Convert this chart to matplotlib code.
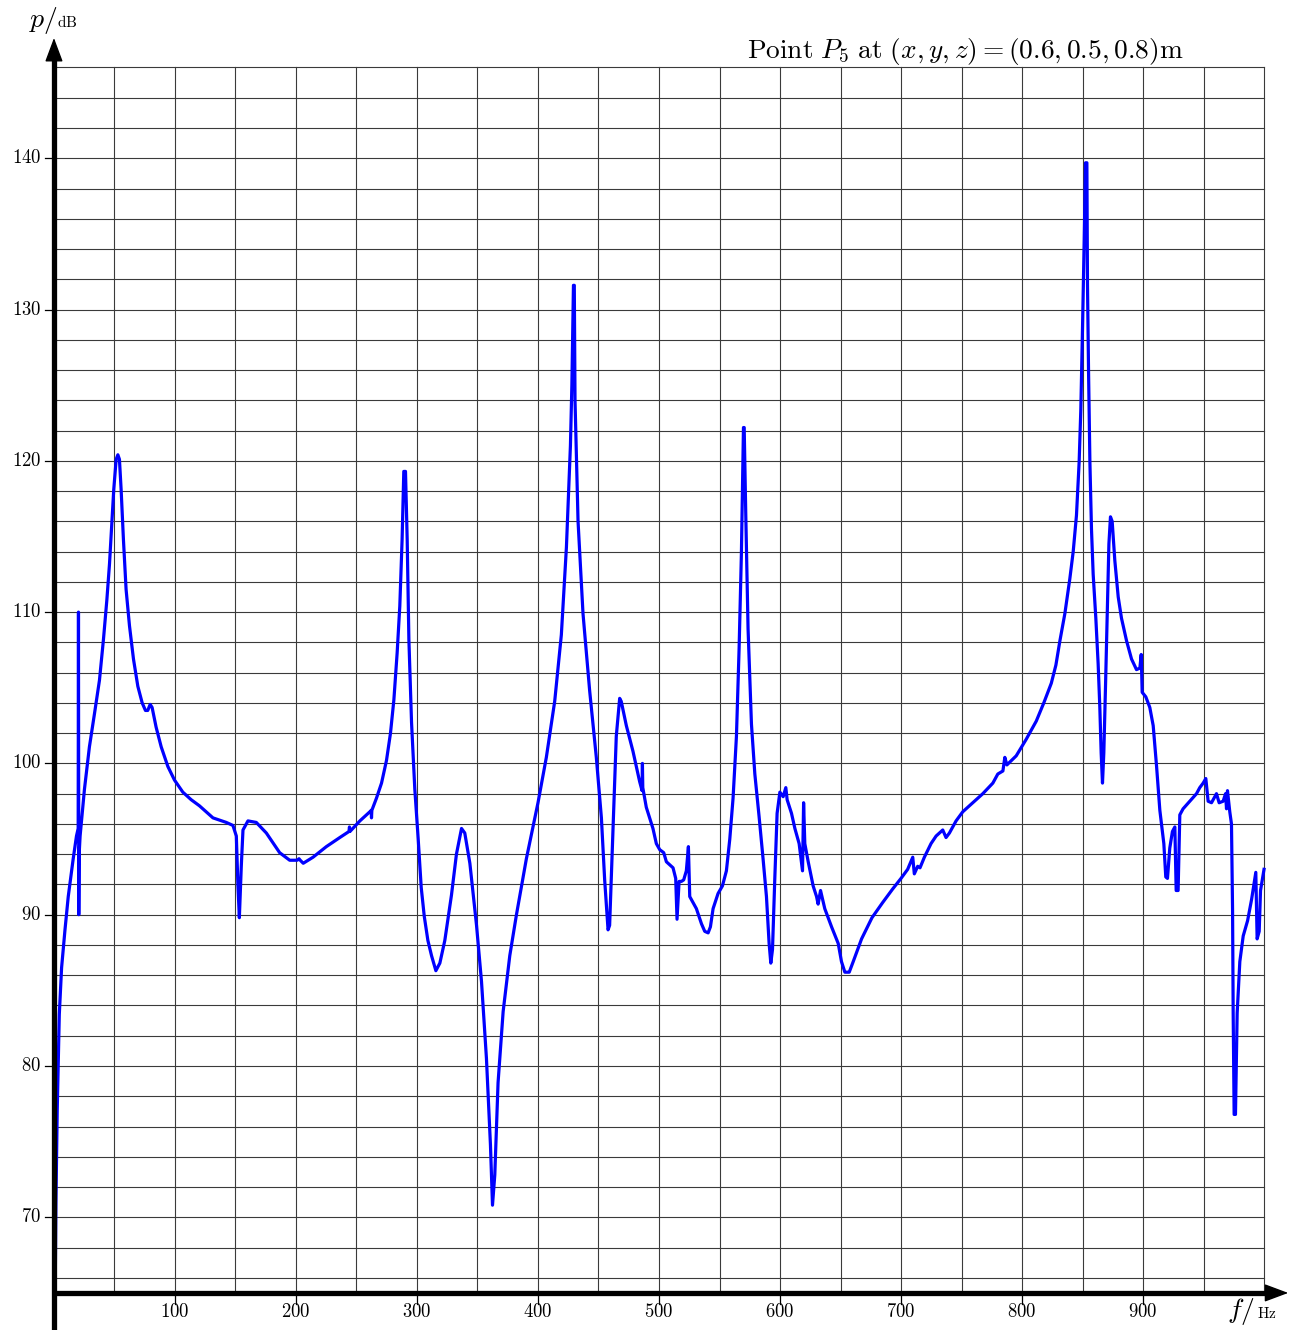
import matplotlib
matplotlib.use("Agg")
import matplotlib.pyplot as plt

plt.rcParams['mathtext.fontset'] = 'cm'
plt.rcParams['font.family'] = ['DejaVu Serif']

# frequency (Hz) and sound pressure level (dB)
freq = [0.5, 1.6, 2.7, 4.4, 6.3, 9.1, 11.8, 15.9, 18.6, 20.0,
        20.25, 20.5, 20.8, 21.6, 25.2, 29.3, 33.5, 37.6, 40.9, 43.7,
        45.9, 47.8, 49.4, 51.4, 52.8, 54.1, 55.5, 57.4, 59.6, 62.4,
        65.7, 69.3, 72.9, 75.6, 77.5, 79.5, 81.1, 84.4, 88.6, 94.1,
        99.6, 106.5, 113.4, 120.2, 131.4, 142.4, 147.9, 150.7, 152.0, 153.2,
        154.8, 156.2, 160.3, 167.2, 175.5, 186.5, 194.8, 201.0, 202.5, 203.5,
        206.0, 214.1, 225.1, 236.2, 243.8, 244.2, 244.6, 252.8, 261.0, 262.2,
        262.4, 262.7, 266.5, 270.7, 274.8, 278.1, 280.9, 283.6, 285.8, 287.7,
        289.1, 290.5, 291.9, 293.3, 295.5, 298.2, 301.0, 303.5, 306.0, 309.0,
        312.0, 315.6, 318.9, 323.0, 328.5, 332.6, 336.8, 339.5, 343.7, 349.2,
        353.3, 357.4, 360.7, 362.4, 364.3, 367.0, 371.2, 376.7, 382.2, 390.4,
        400.0, 406.9, 413.8, 419.3, 423.5, 426.8, 428.0, 429.3, 430.0, 430.6,
        433.1, 437.2, 442.7, 448.2, 452.4, 455.1, 457.9, 459.2, 462.0, 464.7,
        467.5, 468.8, 473.0, 478.5, 484.0, 486.0, 486.3, 486.6, 489.5, 495.0,
        497.8, 500.6, 503.9, 506.1, 508.9, 511.6, 513.8, 514.9, 516.6, 518.5,
        520.4, 522.6, 524.3, 525.4, 528.2, 530.9, 535.1, 537.8, 540.6, 542.5,
        544.7, 548.8, 552.4, 555.7, 558.5, 561.2, 564.0, 566.2, 568.1, 569.8,
        570.4, 571.7, 573.6, 576.4, 579.2, 582.7, 586.0, 588.8, 591.0, 592.4,
        593.8, 595.7, 597.6, 599.9, 602.6, 604.8, 605.9, 609.5, 612.3, 615.8,
        618.6, 619.5, 620.5, 623.3, 627.4, 630.2, 631.5, 633.5, 637.0, 642.6,
        648.1, 650.8, 653.6, 657.2, 660.5, 667.4, 676.0, 684.8, 693.1, 700.0,
        705.5, 709.7, 711.0, 713.8, 715.7, 719.3, 724.8, 729.0, 731.7, 734.5,
        737.2, 740.0, 745.5, 751.0, 759.3, 767.6, 775.9, 780.0, 784.2, 785.8,
        787.5, 795.2, 803.5, 811.8, 818.0, 824.2, 828.0, 831.3, 835.4, 839.5,
        842.3, 845.0, 847.2, 848.6, 850.0, 851.4, 852.5, 853.6, 854.1, 855.0,
        856.1, 857.4, 858.8, 861.0, 862.9, 864.3, 865.4, 866.5, 867.6, 869.0,
        870.7, 871.8, 873.1, 874.5, 876.7, 879.5, 882.2, 886.4, 890.5, 894.6,
        897.4, 898.5, 899.3, 902.3, 905.6, 908.4, 911.2, 913.9, 917.2, 918.8,
        920.2, 922.1, 924.3, 926.3, 927.4, 929.0, 930.4, 933.1, 938.6, 944.2,
        946.9, 949.7, 951.9, 953.8, 956.6, 960.7, 962.9, 966.2, 968.2, 969.0,
        969.8, 971.7, 973.1, 974.0, 974.5, 975.3, 976.4, 977.8, 980.0, 982.8,
        986.4, 989.7, 993.2, 994.3, 996.0, 997.1, 1000.0]

level = [60.0, 70.9, 77.1, 83.4, 86.5, 89.0, 91.2, 93.7, 95.2, 95.7,
         110.0, 90.0, 94.0, 95.2, 98.3, 101.1, 103.3, 105.5, 108.2, 110.8,
         113.2, 115.9, 118.1, 120.1, 120.4, 120.1, 118.1, 114.8, 111.5, 109.1,
         106.9, 105.1, 104.0, 103.5, 103.5, 103.9, 103.7, 102.4, 101.1, 99.8,
         98.9, 98.1, 97.6, 97.2, 96.4, 96.1, 95.9, 95.2, 92.0, 89.8,
         93.2, 95.6, 96.2, 96.1, 95.4, 94.1, 93.6, 93.6, 93.7, 93.6,
         93.4, 93.8, 94.5, 95.1, 95.5, 95.8, 95.5, 96.2, 96.8, 96.9,
         96.4, 96.9, 97.7, 98.7, 100.2, 102.0, 104.2, 107.3, 110.4, 114.8,
         119.3, 119.3, 114.8, 108.2, 102.7, 98.3, 95.0, 91.8, 89.9, 88.3,
         87.3, 86.3, 86.8, 88.3, 91.3, 94.0, 95.7, 95.4, 93.4, 89.3,
         85.6, 80.5, 74.8, 70.8, 72.8, 78.9, 83.6, 87.3, 90.0, 93.7,
         97.4, 100.4, 104.1, 108.5, 114.3, 121.0, 125.0, 131.6, 131.6, 124.0,
         116.0, 109.9, 104.8, 100.4, 96.4, 92.3, 89.0, 89.3, 95.7, 101.8,
         104.3, 104.1, 102.5, 100.8, 98.8, 98.2, 100.0, 98.4, 97.1, 95.7,
         94.7, 94.3, 94.1, 93.5, 93.3, 93.1, 92.4, 89.7, 92.2, 92.2,
         92.3, 92.9, 94.5, 91.2, 90.8, 90.4, 89.4, 88.9, 88.8, 89.2,
         90.4, 91.4, 91.9, 92.9, 95.0, 97.7, 101.8, 107.6, 113.9, 122.2,
         122.2, 116.5, 108.9, 102.6, 99.3, 96.5, 93.7, 91.2, 88.1, 86.8,
         87.7, 92.4, 96.7, 98.1, 97.8, 98.4, 97.6, 96.7, 95.7, 94.7,
         92.9, 97.4, 94.7, 93.5, 91.9, 91.2, 90.7, 91.6, 90.4, 89.2,
         88.1, 86.9, 86.2, 86.2, 86.9, 88.4, 89.8, 90.8, 91.7, 92.4,
         93.0, 93.8, 92.7, 93.2, 93.1, 93.8, 94.7, 95.2, 95.4, 95.6,
         95.1, 95.4, 96.2, 96.8, 97.4, 98.0, 98.7, 99.3, 99.5, 100.4,
         99.9, 100.5, 101.6, 102.8, 104.0, 105.3, 106.5, 108.1, 109.9, 112.2,
         114.0, 116.4, 119.9, 123.4, 128.8, 134.6, 139.7, 139.7, 131.7, 125.8,
         119.9, 115.5, 112.5, 109.6, 106.6, 103.7, 100.7, 98.7, 100.7, 105.1,
         111.0, 114.5, 116.3, 116.0, 113.4, 111.0, 109.6, 108.1, 106.9, 106.2,
         106.3, 107.2, 104.7, 104.4, 103.7, 102.5, 99.8, 96.9, 94.7, 92.5,
         92.4, 94.4, 95.5, 95.8, 91.6, 91.6, 96.6, 97.0, 97.5, 98.0,
         98.4, 98.7, 99.0, 97.5, 97.4, 98.0, 97.4, 97.5, 98.0, 97.0,
         98.2, 96.8, 96.0, 90.3, 83.5, 76.8, 76.8, 83.5, 86.9, 88.6,
         89.6, 91.0, 92.8, 88.4, 88.9, 91.6, 93.0]

x_ticks = [100, 200, 300, 400, 500, 600, 700, 800, 900]
y_ticks = [70, 80, 90, 100, 110, 120, 130, 140]
title = r'$\mathrm{Point}\ P_5\ \mathrm{at}\ (x, y, z) = (0.6, 0.5, 0.8)\mathrm{m}$'

fig = plt.figure(figsize=(12.99, 13.30), dpi=100)
ax = fig.add_axes([0, 0, 1, 1])
ax.set_xlim(-44.6, 1028.9)
ax.set_ylim(62.55, 150.46)
ax.axis('off')

# grid
for fx in range(50, 1001, 50):
    ax.plot([fx, fx], [65, 146], color='#3a3a3a', lw=0.8, zorder=1)
for yy in range(66, 147, 2):
    ax.plot([0, 1000], [yy, yy], color='#3a3a3a', lw=0.8, zorder=1)

# curve
ax.plot(freq, level, color='#0000ff', lw=2.3, zorder=3)

# axes with arrows
head = 'Simple,head_length=0.75,head_width=0.55,tail_width=0.01'
ax.plot([-1.5, 1005], [65, 65], color='k', lw=3.8, zorder=4, solid_capstyle='butt')
ax.annotate('', xy=(1020, 65), xytext=(1002, 65),
            arrowprops=dict(arrowstyle='-|>,head_length=0.75,head_width=0.28',
                            mutation_scale=20, color='k', lw=1.0,
                            shrinkA=0, shrinkB=0), zorder=4)
ax.plot([0, 0], [60, 146.8], color='k', lw=3.8, zorder=4, solid_capstyle='butt')
ax.annotate('', xy=(0, 147.95), xytext=(0, 146.3),
            arrowprops=dict(arrowstyle='-|>,head_length=0.75,head_width=0.28',
                            mutation_scale=20, color='k', lw=1.0,
                            shrinkA=0, shrinkB=0), zorder=4)

# ticks and labels
for t in y_ticks:
    ax.plot([-7, 0], [t, t], color='k', lw=0.9, zorder=4)
    ax.text(-10.5, t, r'$%d$' % t, ha='right', va='center', fontsize=13.5)
for t in x_ticks:
    ax.plot([t, t], [65, 64.3], color='k', lw=0.9, zorder=4)
    ax.text(t, 63.75, r'$%d$' % t, ha='center', va='center', fontsize=13.5)

# axis labels
ax.text(-20.5, 148.65, r'$p/$', ha='left', va='baseline', fontsize=20)
ax.text(2.5, 148.65, r'$\mathrm{dB}$', ha='left', va='baseline', fontsize=11)
ax.text(969.5, 63.35, r'$f/$', ha='left', va='baseline', fontsize=20)
ax.text(994.0, 63.35, r'$\mathrm{Hz}$', ha='left', va='baseline', fontsize=11)

# title
ax.text(572.5, 146.65, title, ha='left', va='baseline', fontsize=19.7)

fig.savefig('out.png', dpi=100)
